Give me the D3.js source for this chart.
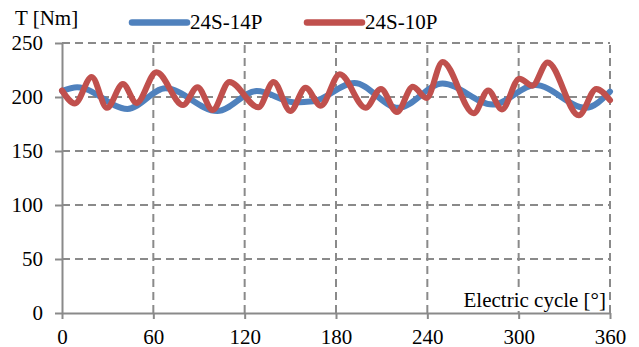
<!DOCTYPE html>
<html>
<head>
<meta charset="utf-8">
<script src="https://cdn.jsdelivr.net/npm/d3@7"></script>
</head>
<body style="margin:0">
<svg width="639" height="347"></svg>
<script>
// values: [electric angle, torque]
const
    series = ['24S-14P', '24S-10P'],
    colors = ['#4F81BD', '#C0504D'],
    xTicks = [0, 60, 120, 180, 240, 300, 360],
    yTicks = [0, 50, 100, 150, 200, 250]

const blue = [
    [0, 205.5], [10, 209], [43, 189], [68, 208], [102, 187], [128, 205.5],
    [153, 195], [165, 196], [192, 213], [221, 190], [250, 212.5],
    [283, 193], [311, 211], [344, 190], [360, 205]
]

const red = [
    [0, 206], [8.5, 194], [19.5, 218.5], [29.5, 190], [40, 212], [49, 194.5],
    [62, 223], [79.5, 192.5], [89, 209], [99, 188], [110, 214], [129, 190.5],
    [139, 214], [150, 187], [160, 208.5], [170, 192], [182.5, 221], [199.5, 190],
    [209.5, 207.5], [220, 186], [230.5, 209.5], [239.5, 199], [250, 232.5],
    [270.5, 185], [280, 206], [289, 188.5], [300.5, 217], [309, 210.5],
    [319, 232], [339.5, 183], [351, 207.5], [360, 197]
]

const
    margin = { top: 43, right: 29, bottom: 34, left: 62 },
    width = 639,
    height = 347,
    grey = '#8a8a8a'

const svg = d3.select('svg')
    .style('font-family', '"Times New Roman"')

const x = d3.scaleLinear()
    .domain([0, 360])
    .range([margin.left, width - margin.right])

const y = d3.scaleLinear()
    .domain([0, 250])
    .range([height - margin.bottom, margin.top])

// dashed grid
svg.append('g')
    .selectAll('line')
    .data(yTicks.filter(d => d > 0))
    .join('line')
    .attr('x1', x(0)).attr('x2', x(360))
    .attr('y1', d => y(d)).attr('y2', d => y(d))
    .attr('stroke', grey).attr('stroke-width', 2).attr('stroke-dasharray', '8,5')

svg.append('g')
    .selectAll('line')
    .data(xTicks.filter(d => d > 0))
    .join('line')
    .attr('x1', d => x(d)).attr('x2', d => x(d))
    .attr('y1', y(0)).attr('y2', y(250))
    .attr('stroke', grey).attr('stroke-width', 2).attr('stroke-dasharray', '8,5')

// axes
const xAxis = g => g
    .attr('transform', `translate(0,${y(0)})`)
    .call(d3.axisBottom(x).tickValues(xTicks).tickSize(6).tickSizeOuter(0))
    .call(g => g.selectAll('text').attr('y', 31).attr('dy', null))

const yAxis = g => g
    .attr('transform', `translate(${x(0)},0)`)
    .call(d3.axisLeft(y).tickValues(yTicks).tickSize(7).tickPadding(12).tickSizeOuter(0))

svg.append('g').call(yAxis)
svg.append('g').call(xAxis)

svg.selectAll('.domain, .tick line')
    .attr('stroke', grey)
    .attr('stroke-width', 2)

// lines
const line = d3.line()
    .x(d => x(d[0]))
    .y(d => y(d[1]))
    .curve(d3.curveMonotoneX)

svg.append('g')
    .selectAll('path')
    .data([blue, red])
    .join('path')
    .attr('d', line)
    .attr('fill', 'none')
    .attr('stroke', (d, i) => colors[i])
    .attr('stroke-width', 6)
    .attr('stroke-linecap', 'round')
    .attr('stroke-linejoin', 'round')

// axis titles
svg.append('text')
    .attr('x', 15).attr('y', 25)
    .text('T [Nm]')

svg.append('rect')
    .attr('x', 459).attr('y', 289)
    .attr('width', 149).attr('height', 22)
    .attr('fill', '#fff')

svg.append('text')
    .attr('x', 606).attr('y', 307)
    .attr('text-anchor', 'end')
    .text('Electric cycle [°]')

// legend
const legend = svg.append('g')
    .selectAll('g')
    .data(series)
    .join('g')
    .attr('transform', (d, i) => `translate(${132 + i * 175},0)`)

legend.append('line')
    .attr('x1', 0).attr('x2', 55)
    .attr('y1', 22.5).attr('y2', 22.5)
    .attr('stroke', (d, i) => colors[i])
    .attr('stroke-width', 6.5)
    .attr('stroke-linecap', 'round')

legend.append('text')
    .attr('x', 58).attr('y', 29)
    .text(d => d)

// one font for every text, set last so nothing overrides it
svg.selectAll('text')
    .attr('font-family', '"Times New Roman"')
    .attr('font-size', 21)
    .attr('fill', '#000')
    .style('font-family', '"Times New Roman"')
    .style('font-size', '21px')
</script>
</body>
</html>
